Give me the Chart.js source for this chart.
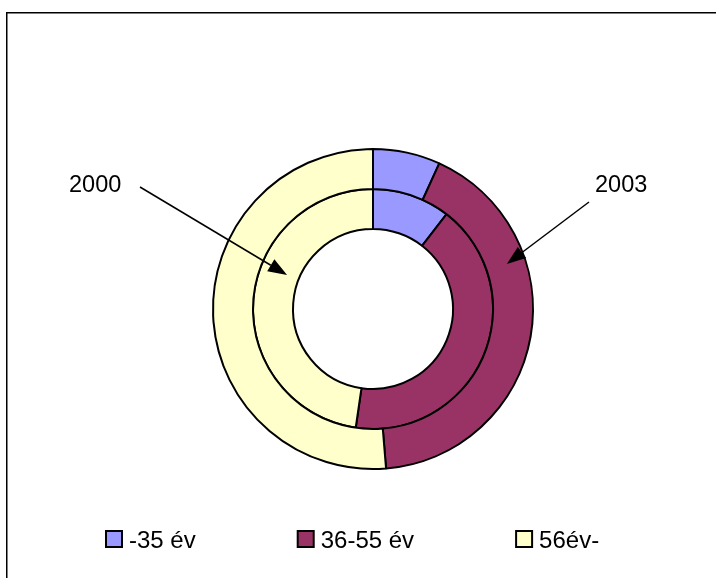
<!DOCTYPE html>
<html>
<head>
<meta charset="utf-8">
<script src="https://cdn.jsdelivr.net/npm/chart.js@4/dist/chart.umd.min.js"></script>
<style>
  html, body { margin: 0; padding: 0; background: #fff; }
  #wrap { position: relative; width: 716px; height: 578px; }
</style>
</head>
<body>
<div id="wrap"><canvas id="c" width="716" height="578"></canvas></div>
<script>
// ---- data ----
const categories = ['-35 év', '36-55 év', '56év-'];
const seriesNames = ['2003', '2000'];          // outer ring, inner ring
const values2003 = [6.8, 41.9, 51.3];
const values2000 = [10.5, 41.8, 47.7];
const colors = ['#9999FF', '#993366', '#FFFFCC'];

const FONT = '"Liberation Sans", Arial, sans-serif';

// frame around the chart
const framePlugin = {
  id: 'frame',
  beforeDraw(chart) {
    const ctx = chart.ctx;
    ctx.save();
    ctx.fillStyle = '#fff';
    ctx.fillRect(0, 0, chart.width, chart.height);
    ctx.strokeStyle = '#000';
    ctx.lineWidth = 1.5;
    ctx.strokeRect(6.75, 12.75, chart.width + 20, chart.height + 20);
    ctx.restore();
  }
};

// custom legend laid out like the original (uses the library's own legend items)
const legendPlugin = {
  id: 'customLegend',
  afterDraw(chart) {
    const ctx = chart.ctx;
    const items = Chart.overrides.doughnut.plugins.legend.labels.generateLabels(chart);
    ctx.save();
    ctx.font = '24px ' + FONT;
    ctx.textBaseline = 'alphabetic';
    ctx.textAlign = 'left';
    let x = 106;
    const boxTop = 531, box = 16, baseline = 548, gap = 102;
    items.forEach(it => {
      ctx.fillStyle = it.fillStyle;
      ctx.fillRect(x, boxTop, box, box);
      ctx.strokeStyle = '#000';
      ctx.lineWidth = 2;
      ctx.strokeRect(x, boxTop, box, box);
      ctx.fillStyle = '#000';
      const tx = x + box + 7;
      ctx.fillText(it.text, tx, baseline);
      x = tx + ctx.measureText(it.text).width + gap;
    });
    ctx.restore();
  }
};

// series-name callouts with arrows pointing into each ring
const calloutPlugin = {
  id: 'callouts',
  afterDraw(chart) {
    const ctx = chart.ctx;
    const callouts = [
      { ds: 1, idx: 2, text: seriesNames[1], tx: 69, ty: 192, sx: 140, sy: 187, ang: -158.4, t: 0.31 },
      { ds: 0, idx: 1, text: seriesNames[0], tx: 595, ty: 192, sx: 589, sy: 202, ang: -18.6, t: 0.53 }
    ];
    ctx.save();
    ctx.font = '23.5px ' + FONT;
    ctx.fillStyle = '#000';
    ctx.strokeStyle = '#000';
    callouts.forEach(c => {
      const arc = chart.getDatasetMeta(c.ds).data[c.idx];
      const r = arc.innerRadius + c.t * (arc.outerRadius - arc.innerRadius);
      const a = c.ang * Math.PI / 180;
      const ex = arc.x + r * Math.cos(a), ey = arc.y + r * Math.sin(a);
      ctx.fillText(c.text, c.tx, c.ty);
      const dir = Math.atan2(ey - c.sy, ex - c.sx);
      const hl = 19, hw = 7;
      const bx = ex - hl * Math.cos(dir), by = ey - hl * Math.sin(dir);
      ctx.lineWidth = 1.5;
      ctx.beginPath();
      ctx.moveTo(c.sx, c.sy);
      ctx.lineTo(bx, by);
      ctx.stroke();
      ctx.beginPath();
      ctx.moveTo(ex, ey);
      ctx.lineTo(bx + hw * Math.sin(dir), by - hw * Math.cos(dir));
      ctx.lineTo(bx - hw * Math.sin(dir), by + hw * Math.cos(dir));
      ctx.closePath();
      ctx.fill();
    });
    ctx.restore();
  }
};

new Chart(document.getElementById('c'), {
  type: 'doughnut',
  data: {
    labels: categories,
    datasets: [
      { label: seriesNames[0], data: values2003, backgroundColor: colors, borderColor: '#000', borderWidth: 2 },
      { label: seriesNames[1], data: values2000, backgroundColor: colors, borderColor: '#000', borderWidth: 2 }
    ]
  },
  options: {
    responsive: false,
    animation: false,
    cutout: '50%',
    radius: 160,
    layout: { padding: { left: 30, right: 0, top: 80, bottom: 40 } },
    plugins: {
      legend: { display: false },
      tooltip: { enabled: false }
    }
  },
  plugins: [framePlugin, legendPlugin, calloutPlugin]
});
</script>
</body>
</html>
